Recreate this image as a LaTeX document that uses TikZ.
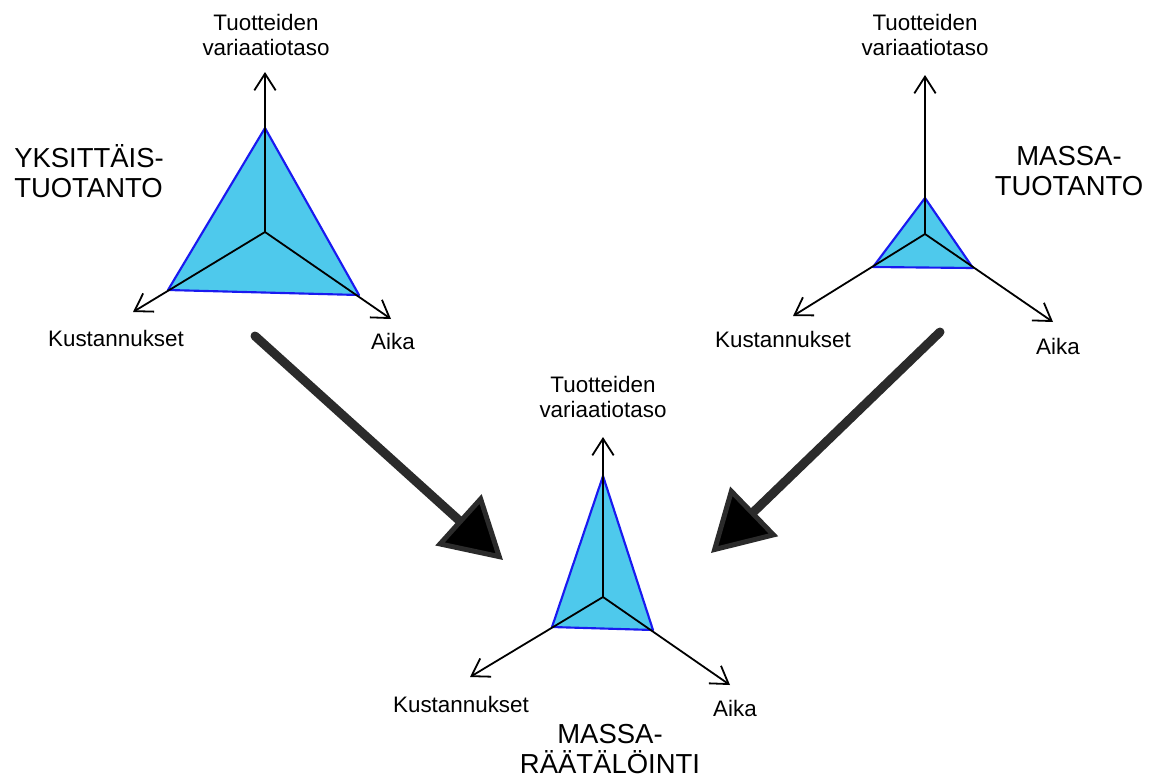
\documentclass[tikz,border=0pt]{standalone}
\usepackage{fontspec}
\setmainfont{Liberation Sans}
\usepackage{tikz}
\usetikzlibrary{arrows.meta}
\definecolor{tricyan}{HTML}{4EC9EC}
\definecolor{edgeblue}{HTML}{1A1AF0}
\definecolor{shaftgray}{HTML}{2B2B2B}

\begin{document}
\begin{tikzpicture}[x=0.75pt,y=-0.75pt,
  axis/.style={line width=1.35pt,-{Straight Barb[length=12.5pt,width=16pt,line width=1.35pt]}},
  profile/.style={fill=tricyan,draw=edgeblue,line width=1.6pt,line join=round},
  small/.style={inner sep=0pt,align=center,font=\fontsize{16.8}{18.5}\selectfont},
  big/.style={inner sep=0pt,font=\fontsize{20.6}{22.5}\selectfont},
  bigarrow/.style={draw=shaftgray,line width=6.75pt,line cap=round,
    -{Triangle[length=45pt,width=51pt,fill=black,line width=3.75pt]}}]
\useasboundingbox (0,0) rectangle (1155,778);
% Yksittaistuotanto, top left
\coordinate (ykO) at (265,232);
\coordinate (ykT) at (265,128);
\coordinate (ykL) at (168,290);
\coordinate (ykR) at (359,295);
\coordinate (ykTa) at (265,72);
\coordinate (ykLa) at (133,312);
\coordinate (ykRa) at (391,319);
\draw[profile] (ykT)--(ykL)--(ykR)--cycle;
\draw[axis] (ykO)--(ykTa);
\draw[axis] (ykO)--(ykLa);
\draw[axis] (ykO)--(ykRa);
\node[small] (ykvar) at (266,35) {Tuotteiden\\variaatiotaso};
\node[small] (ykkus) at (116,338) {Kustannukset};
\node[small] (ykaika) at (393,341) {Aika};
\node[big,align=left,anchor=west] (yktitle) at (14,171) {YKSITTÄIS-\\TUOTANTO};
% Massatuotanto, top right
\coordinate (mtO) at (925,234);
\coordinate (mtT) at (925,198);
\coordinate (mtL) at (873,267);
\coordinate (mtR) at (973,268);
\coordinate (mtTa) at (925,75);
\coordinate (mtLa) at (793,316);
\coordinate (mtRa) at (1053,322);
\draw[profile] (mtT)--(mtL)--(mtR)--cycle;
\draw[axis] (mtO)--(mtTa);
\draw[axis] (mtO)--(mtLa);
\draw[axis] (mtO)--(mtRa);
\node[small] (mtvar) at (925,35) {Tuotteiden\\variaatiotaso};
\node[small] (mtkus) at (783,339) {Kustannukset};
\node[small] (mtaika) at (1058,346) {Aika};
\node[big,align=center] (mttitle) at (1069,171) {MASSA-\\TUOTANTO};
% Massaraatalointi, bottom
\coordinate (mrO) at (603,597);
\coordinate (mrT) at (603,476);
\coordinate (mrL) at (552,627);
\coordinate (mrR) at (653,630);
\coordinate (mrTa) at (603,437);
\coordinate (mrLa) at (470,677);
\coordinate (mrRa) at (730,685);
\draw[profile] (mrT)--(mrL)--(mrR)--cycle;
\draw[axis] (mrO)--(mrTa);
\draw[axis] (mrO)--(mrLa);
\draw[axis] (mrO)--(mrRa);
\node[small] (mrvar) at (603,397) {Tuotteiden\\variaatiotaso};
\node[small] (mrkus) at (461,704) {Kustannukset};
\node[small] (mraika) at (735,708) {Aika};
\node[big,align=center] (mrtitle) at (610,749) {MASSA-\\RÄÄTÄLÖINTI};
% big arrows
\coordinate (ykout) at (255,336);
\coordinate (ykin) at (503,560);
\coordinate (mtout) at (940,332);
\coordinate (mtin) at (711,553);
\draw[bigarrow] (ykout)--(ykin);
\draw[bigarrow] (mtout)--(mtin);
\end{tikzpicture}
\end{document}
